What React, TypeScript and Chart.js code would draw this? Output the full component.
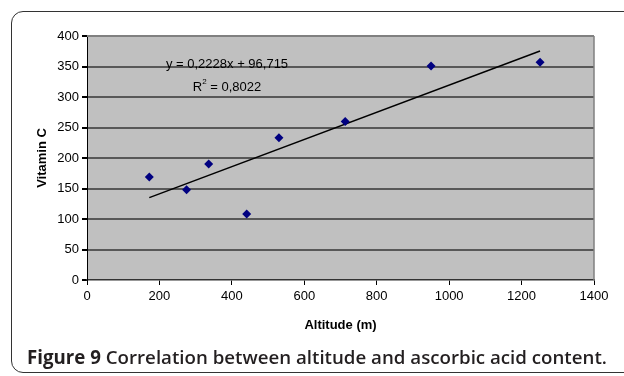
import React, { useEffect, useRef } from "react";
import { Chart, registerables } from "chart.js";

Chart.register(...registerables);

const altitude = [172, 275, 336, 441, 530, 713, 950, 1251];
const vitaminC = [169, 148, 190, 108, 233, 260, 351, 357];
const trendSlope = 0.2228;
const trendIntercept = 96.715;
const equationText = "y = 0,2228x + 96,715";
const r2Text = "= 0,8022";
const xTitle = "Altitude (m)";
const yTitle = "Vitamin C";
const captionBold = "Figure 9";
const captionRest = " Correlation between altitude and ascorbic acid content.";

const FONT = "Arial, 'Liberation Sans', sans-serif";

const plotBgPlugin = {
  id: "plotBg",
  beforeDraw(chart: any) {
    const { ctx, chartArea: a } = chart;
    ctx.save();
    ctx.fillStyle = "#c0c0c0";
    ctx.fillRect(a.left, a.top, a.right - a.left, a.bottom - a.top);
    ctx.restore();
  },
  afterDraw(chart: any) {
    const { ctx, chartArea: a } = chart;
    ctx.save();
    ctx.strokeStyle = "#808080";
    ctx.lineWidth = 2;
    ctx.beginPath();
    ctx.moveTo(a.left, a.top);
    ctx.lineTo(a.right, a.top);
    ctx.stroke();
    ctx.lineWidth = 1.5;
    ctx.beginPath();
    ctx.moveTo(a.right, a.top);
    ctx.lineTo(a.right, a.bottom);
    ctx.stroke();
    // equation text
    ctx.fillStyle = "#000";
    ctx.font = "13px " + FONT;
    ctx.textBaseline = "middle";
    ctx.textAlign = "left";
    const xs = chart.scales.x;
    const ys = chart.scales.y;
    const ex = xs.getPixelForValue(218);
    const ey = ys.getPixelForValue(354);
    ctx.fillText(equationText, ex, ey);
    const rx = xs.getPixelForValue(292);
    const ry = ys.getPixelForValue(316);
    ctx.fillText("R", rx, ry);
    const rw = ctx.measureText("R").width;
    ctx.font = "8px " + FONT;
    ctx.fillText("2", rx + rw, ry - 5);
    const sw = ctx.measureText("2").width;
    ctx.font = "13px " + FONT;
    ctx.fillText(" " + r2Text, rx + rw + sw, ry);
    ctx.restore();
  },
};

export default function App() {
  const ref = useRef<HTMLCanvasElement>(null);
  useEffect(() => {
    if (!ref.current) return;
    const xMin = altitude[0];
    const xMax = altitude[altitude.length - 1];
    const chart = new Chart(ref.current, {
      type: "scatter",
      data: {
        datasets: [
          {
            label: "Vitamin C",
            data: altitude.map((x, i) => ({ x, y: vitaminC[i] })),
            pointStyle: "rectRot",
            pointRadius: 4.5,
            backgroundColor: "#000080",
            borderColor: "#000080",
            borderWidth: 0,
            order: 1,
          },
          {
            type: "line",
            label: "Trend",
            data: [
              { x: xMin, y: trendSlope * xMin + trendIntercept },
              { x: xMax, y: trendSlope * xMax + trendIntercept },
            ],
            borderColor: "#000",
            borderWidth: 1.5,
            pointRadius: 0,
            fill: false,
            order: 2,
          } as any,
        ],
      },
      options: {
        animation: false,
        responsive: false,
        maintainAspectRatio: false,
        layout: { padding: { left: 0, top: 36, right: 30, bottom: 36 } },
        plugins: { legend: { display: false }, tooltip: { enabled: false } },
        scales: {
          x: {
            type: "linear",
            min: 0,
            max: 1400,
            afterFit: (s: any) => {
              s.height = 60;
            },
            ticks: {
              stepSize: 200,
              color: "#000",
              font: { family: FONT, size: 13 },
              padding: 4,
              maxRotation: 0,
              callback: (v: any) => String(v),
            },
            grid: {
              drawOnChartArea: false,
              drawTicks: true,
              tickLength: 5,
              tickColor: "#000",
            },
            border: { color: "#333", width: 1.5 },
            title: {
              display: true,
              text: xTitle,
              color: "#000",
              font: { family: FONT, size: 13, weight: "bold" },
              padding: { top: 0, bottom: 7 },
            },
          },
          y: {
            type: "linear",
            min: 0,
            max: 400,
            afterFit: (s: any) => {
              s.width = 87;
            },
            ticks: {
              stepSize: 50,
              color: "#000",
              font: { family: FONT, size: 13 },
              padding: 3,
            },
            grid: {
              color: (c: any) =>
                c.tick && (c.tick.value === 400 || c.tick.value === 0) ? "rgba(0,0,0,0)" : "#585858",
              lineWidth: 2,
              drawTicks: true,
              tickLength: 5,
              tickColor: "#000",
            },
            border: { color: "#000", width: 1 },
            title: {
              display: true,
              text: yTitle,
              color: "#000",
              font: { family: FONT, size: 13, weight: "bold" },
              padding: { top: 35, bottom: 0 },
            },
          },
        },
      },
      plugins: [plotBgPlugin],
    });
    return () => chart.destroy();
  }, []);

  return (
    <div
      style={{
        position: "fixed",
        left: 0,
        top: 0,
        width: 624,
        height: 376,
        background: "#fff",
        overflow: "hidden",
      }}
    >
      <div
        style={{
          position: "absolute",
          left: 11,
          top: 11,
          width: 640,
          height: 362,
          border: "1.5px solid #333",
          borderRadius: 12,
          boxSizing: "border-box",
        }}
      />
      <canvas
        ref={ref}
        width={624}
        height={376}
        style={{ position: "absolute", left: 0, top: 0, width: 624, height: 376 }}
      />
      <div
        style={{
          position: "absolute",
          left: 27,
          top: 345,
          whiteSpace: "nowrap",
          fontFamily: "'Open Sans', sans-serif",
          fontSize: 18.7,
          color: "#231f20",
          fontWeight: 600,
          lineHeight: "24px",
        }}
      >
        <span style={{ fontWeight: 700 }}>{captionBold}</span>
        {captionRest}
      </div>
    </div>
  );
}
